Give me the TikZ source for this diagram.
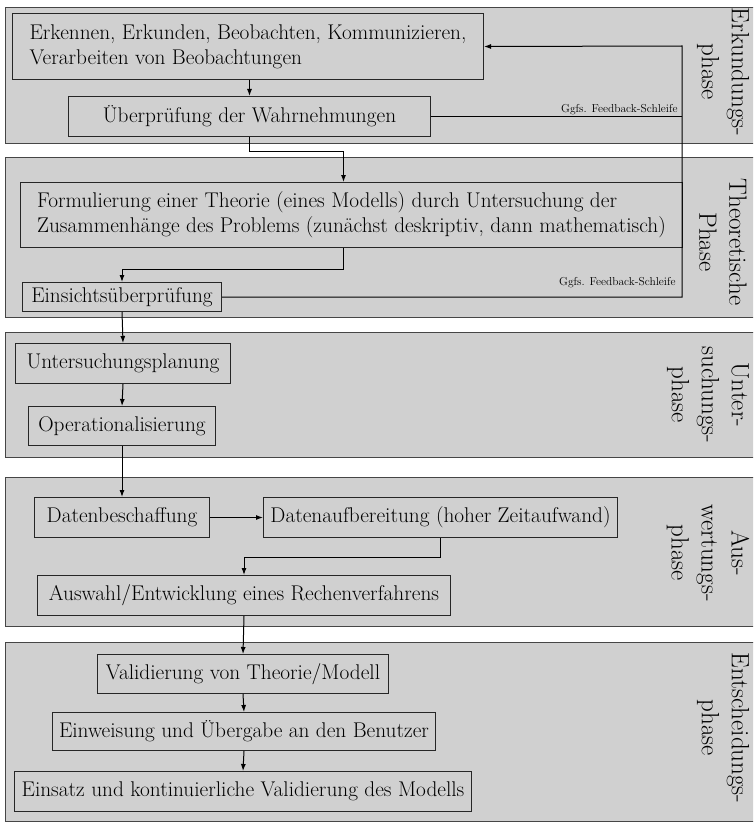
\documentclass[tikz,border=0pt]{standalone}
\usetikzlibrary{arrows.meta}

\definecolor{bandgray}{RGB}{208,208,208}
\definecolor{edgegray}{RGB}{70,70,70}
\tikzset{
  band/.style={fill=bandgray, draw=edgegray, line width=1pt},
  box/.style={draw=black!85, fill=bandgray, line width=1pt, anchor=north west,
    inner sep=2pt, font=\fontsize{21.3}{25}\selectfont},
  flow/.style={-{Latex[length=7pt,width=5pt]}, line width=1pt},
  fbline/.style={line width=1pt},
  fblabel/.style={font=\fontsize{11.5}{13}\selectfont, inner sep=1pt},
  phase/.style={rotate=-90, align=center, inner sep=0pt,
    font=\fontsize{25}{30}\selectfont},
}

\begin{document}
\begin{tikzpicture}[x=1pt,y=-1pt]
\useasboundingbox (0,0) rectangle (753,824);
\clip (0,0) rectangle (753,824);

% phase bands
\draw[band] (5,8) rectangle (770,143);
\draw[band] (5,157) rectangle (770,317);
\draw[band] (5,332) rectangle (770,457);
\draw[band] (5,477) rectangle (770,626);
\draw[band] (5,642) rectangle (770,821);

\node[phase] (erkphase) at (723,72) {Erkundungs-\\phase};
\node[phase] (theophase) at (723,242) {Theoretische\\Phase};
\node[phase] (untphase) at (708,395) {Unter-\\suchungs-\\phase};
\node[phase] (auswphase) at (708,553) {Aus-\\wertungs-\\phase};
\node[phase] (entphase) at (723,728) {Entscheidungs-\\phase};

% steps
\node[box, minimum width=471pt, minimum height=66pt, align=left] (erkennen) at (12,13)
  {Erkennen, Erkunden, Beobachten, Kommunizieren,\\Verarbeiten von Beobachtungen};
\node[box, minimum width=362pt, minimum height=40pt] (wahrnehmung) at (68,96)
  {Überprüfung der Wahrnehmungen};
\node[box, minimum width=662pt, minimum height=65pt, align=left] (theorie) at (20,182)
  {Formulierung einer Theorie (eines Modells) durch Untersuchung der\\
   Zusammenhänge des Problems (zunächst deskriptiv, dann mathematisch)};
\node[box, minimum width=199pt, minimum height=29pt] (einsicht) at (22,282)
  {Einsichtsüberprüfung};
\node[box, minimum width=215pt, minimum height=40pt] (planung) at (15,343)
  {Untersuchungsplanung};
\node[box, minimum width=187pt, minimum height=39pt] (operat) at (28,406)
  {Operationalisierung};
\node[box, minimum width=175pt, minimum height=40pt] (beschaffung) at (34,497)
  {Datenbeschaffung};
\node[box, minimum width=354pt, minimum height=40pt] (aufbereitung) at (263,497)
  {Datenaufbereitung (hoher Zeitaufwand)};
\node[box, minimum width=413pt, minimum height=40pt] (verfahren) at (37,575)
  {Auswahl/Entwicklung eines Rechenverfahrens};
\node[box, minimum width=291pt, minimum height=39pt] (validierung) at (97,654)
  {Validierung von Theorie/Modell};
\node[box, minimum width=383pt, minimum height=38pt] (einweisung) at (52,712)
  {Einweisung und Übergabe an den Benutzer};
\node[box, minimum width=457pt, minimum height=40pt] (einsatz) at (14,771)
  {Einsatz und kontinuierliche Validierung des Modells};

% connectors
\draw[flow] (erkennen.south -| wahrnehmung.north) -- (wahrnehmung.north);
\draw[flow] (wahrnehmung.south) -- ++(0,14) -| ([xshift=-8pt]theorie.north);
\draw[flow] ([xshift=-8pt]theorie.south) -- ++(0,21) -| (einsicht.north);
\draw[flow] (einsicht.south) -- (planung.north);
\draw[flow] (planung.south) -- (operat.north);
\draw[flow] (operat.south) -- (beschaffung.north);
\draw[flow] (beschaffung.east) -- (aufbereitung.west);
\draw[flow] (aufbereitung.south) -- ++(0,19) -| (verfahren.north);
\draw[flow] (verfahren.south) -- (validierung.north);
\draw[flow] (validierung.south) -- (einweisung.north);
\draw[flow] (einweisung.south) -- (einsatz.north);

% feedback loops
\coordinate (fbtop) at (682,46);
\draw[fbline] (wahrnehmung.east) -- (wahrnehmung.east -| fbtop)
  node[fblabel, anchor=south east, xshift=-3pt] (fbA) {Ggfs. Feedback-Schleife};
\draw[flow] (einsicht.east) -- (einsicht.east -| fbtop)
  node[fblabel, anchor=south east, xshift=-5pt, yshift=8pt] (fbB) {Ggfs. Feedback-Schleife}
  -- (fbtop) -- (erkennen.east);
\end{tikzpicture}
\end{document}
